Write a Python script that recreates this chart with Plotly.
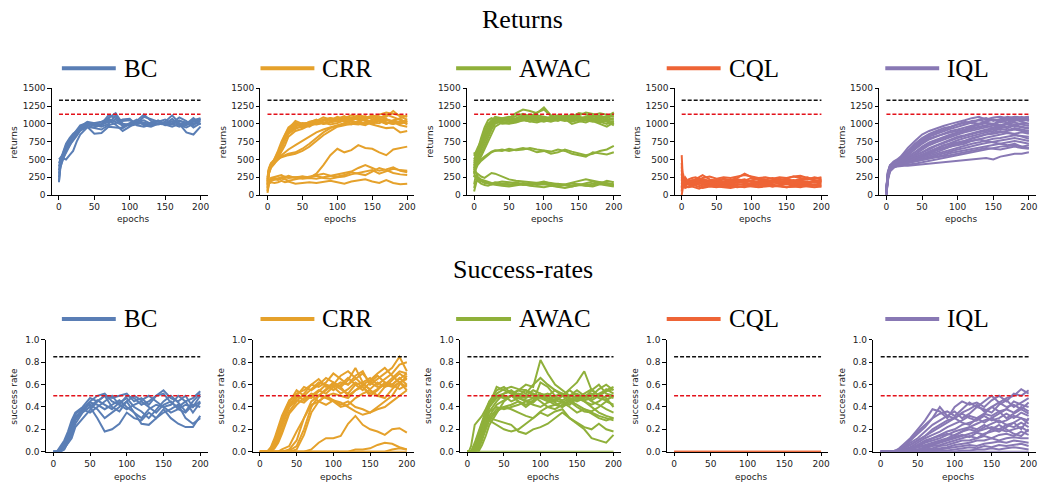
import plotly.graph_objects as go

# ---------------- data ----------------
EPOCHS = [0, 2, 5, 10, 15, 20, 25, 30, 40, 50, 60, 70, 80, 90, 100,
          110, 120, 130, 140, 150, 160, 170, 180, 190, 200]

METHODS = ["BC", "CRR", "AWAC", "CQL", "IQL"]
COLORS = {"BC": "#5A7EB5", "CRR": "#E5A12B", "AWAC": "#8FB03A",
          "CQL": "#EE6436", "IQL": "#8878B4"}

RETURN_EXPERT = 1330
RETURN_REFERENCE = 1135
SUCCESS_EXPERT = 0.85
SUCCESS_REFERENCE = 0.5

RETURN_TICKS = [0, 250, 500, 750, 1000, 1250, 1500]
SUCCESS_TICKS = [0.0, 0.2, 0.4, 0.6, 0.8, 1.0]
EPOCH_TICKS = [0, 50, 100, 150, 200]

BC_RETURNS = [
    [180, 420, 520, 650, 740, 800, 860, 920, 980, 1000, 990, 1030, 1060, 1000, 980, 1020, 1050, 1000, 990, 1010, 1040, 1000, 980, 1030, 1060],
    [300, 480, 560, 700, 780, 850, 920, 980, 1010, 980, 960, 1000, 1120, 960, 1010, 1060, 990, 1020, 1040, 980, 990, 1050, 1000, 1010, 1000],
    [450, 500, 520, 500, 560, 620, 750, 850, 950, 950, 990, 1080, 1150, 1000, 970, 1000, 1020, 990, 1010, 1000, 1070, 980, 950, 1000, 1040],
    [250, 400, 480, 620, 700, 760, 830, 900, 960, 860, 870, 960, 950, 940, 1000, 1030, 1010, 980, 1000, 990, 960, 1000, 880, 850, 960],
    [500, 520, 560, 680, 760, 820, 880, 930, 1000, 970, 1000, 1120, 1080, 1040, 1050, 1000, 1100, 1060, 1030, 1060, 1000, 1040, 1020, 980, 1070],
    [200, 380, 500, 600, 700, 790, 880, 960, 1030, 1010, 980, 1050, 990, 900, 960, 1040, 1130, 1040, 1000, 1020, 1000, 960, 1000, 1080, 990],
    [350, 460, 540, 660, 740, 800, 860, 940, 980, 940, 920, 980, 1010, 1060, 1070, 980, 960, 990, 1050, 1000, 1010, 1090, 1040, 950, 1010],
    [400, 500, 580, 720, 800, 860, 900, 950, 990, 1010, 1030, 1070, 1020, 980, 1000, 1050, 980, 960, 1000, 1030, 1120, 1010, 990, 1050, 1080],
]

CRR_RETURNS = [
    [100, 300, 400, 500, 620, 750, 850, 950, 1020, 950, 1000, 1030, 1050, 1080, 1060, 1100, 1080, 1120, 1100, 1090, 1130, 1160, 1140, 1120, 1100],
    [200, 350, 430, 480, 580, 700, 820, 920, 1000, 980, 960, 1020, 1060, 1050, 1100, 1070, 1060, 1100, 1080, 1120, 1090, 1100, 1180, 1100, 1060],
    [150, 320, 420, 460, 540, 640, 760, 880, 960, 1000, 1010, 1000, 1040, 1080, 1050, 1040, 1090, 1060, 1110, 1060, 1070, 1050, 1040, 1080, 1120],
    [250, 380, 450, 500, 600, 720, 840, 930, 1040, 1000, 1020, 1060, 1000, 1030, 1070, 1110, 1050, 1080, 1040, 1000, 1050, 1020, 1000, 1030, 1000],
    [120, 300, 380, 440, 520, 600, 700, 820, 900, 930, 980, 1000, 1020, 990, 1010, 1050, 1000, 1040, 1060, 1020, 1010, 1060, 1030, 1000, 1040],
    [180, 340, 440, 470, 560, 680, 790, 900, 980, 1010, 990, 1040, 1090, 1060, 1030, 1080, 1120, 1090, 1060, 1110, 1080, 1130, 1090, 1060, 1020],
    [220, 360, 410, 490, 590, 710, 800, 870, 940, 960, 1000, 990, 1010, 1060, 1080, 1030, 1040, 1020, 1070, 1090, 1040, 1000, 1050, 1070, 990],
    [160, 330, 420, 470, 550, 660, 780, 860, 930, 980, 1030, 1050, 1000, 1020, 1040, 1060, 1030, 1000, 1020, 1050, 1100, 1070, 1020, 980, 960],
    [140, 310, 400, 450, 500, 540, 560, 580, 600, 650, 720, 800, 880, 940, 970, 1000, 990, 1030, 1000, 1020, 1050, 1000, 1040, 1020, 1060],
    [200, 340, 420, 470, 510, 530, 550, 560, 580, 620, 680, 760, 840, 900, 960, 980, 1000, 990, 1020, 990, 960, 940, 950, 880, 900],
    [230, 360, 430, 480, 520, 560, 600, 640, 700, 760, 830, 880, 920, 950, 980, 1010, 1040, 1000, 980, 1030, 1060, 1020, 1000, 1040, 1020],
    [100, 180, 200, 220, 240, 250, 240, 250, 250, 260, 240, 300, 420, 560, 650, 600, 630, 700, 660, 650, 600, 560, 640, 660, 680],
    [50, 180, 220, 240, 230, 250, 260, 240, 250, 230, 240, 230, 250, 260, 280, 300, 330, 380, 420, 380, 340, 360, 390, 340, 320],
    [80, 200, 240, 250, 260, 280, 250, 270, 240, 260, 250, 270, 240, 230, 250, 260, 290, 310, 330, 350, 300, 330, 370, 350, 340],
    [30, 150, 200, 220, 210, 230, 220, 200, 220, 240, 260, 280, 300, 270, 260, 280, 320, 300, 280, 330, 380, 350, 310, 290, 280],
    [60, 160, 180, 170, 180, 200, 180, 190, 160, 170, 180, 170, 180, 200, 180, 160, 190, 200, 220, 190, 170, 210, 170, 150, 160],
]

AWAC_RETURNS = [
    [400, 500, 600, 750, 900, 1000, 1050, 1070, 1050, 1060, 1080, 1120, 1090, 1060, 1100, 1080, 1060, 1100, 1120, 1080, 1060, 1100, 1120, 1080, 1150],
    [450, 520, 640, 800, 950, 1050, 1080, 1060, 1040, 1080, 1150, 1200, 1180, 1150, 1230, 1120, 1090, 1070, 1100, 1150, 1130, 1100, 1080, 1110, 1140],
    [600, 550, 600, 700, 820, 920, 1000, 1080, 1070, 1040, 1060, 1100, 1080, 1120, 1100, 1060, 1040, 1080, 1050, 1070, 1100, 1060, 1040, 1060, 1080],
    [300, 420, 520, 640, 760, 880, 980, 1040, 1020, 1000, 1020, 1050, 1080, 1050, 1030, 1060, 1100, 1070, 1000, 1030, 1050, 1040, 1000, 960, 1020],
    [500, 560, 620, 720, 840, 960, 1040, 1100, 1080, 1060, 1040, 1080, 1100, 1160, 1200, 1110, 1060, 1090, 1130, 1100, 1080, 1120, 1150, 1130, 1100],
    [350, 450, 540, 660, 780, 900, 1000, 1060, 1080, 1100, 1070, 1090, 1060, 1040, 1070, 1100, 1080, 1050, 1060, 1040, 1020, 1060, 1090, 1050, 1000],
    [420, 480, 560, 680, 800, 920, 1020, 1050, 1000, 1010, 1040, 1060, 1030, 1080, 1060, 1040, 1070, 1120, 1080, 1050, 1070, 1040, 1020, 1050, 1060],
    [550, 600, 660, 760, 880, 980, 1030, 1060, 1050, 1080, 1100, 1140, 1100, 1080, 1060, 1090, 1120, 1100, 1080, 1120, 1160, 1140, 1100, 1080, 1120],
    [380, 430, 480, 580, 700, 820, 920, 1000, 1040, 1050, 1030, 1050, 1040, 1020, 1050, 1030, 1060, 1040, 1060, 1080, 1050, 1030, 1060, 1030, 980],
    [480, 520, 580, 660, 760, 860, 960, 1020, 1060, 1040, 1060, 1100, 1130, 1100, 1080, 1060, 1090, 1060, 1030, 1060, 1100, 1080, 1060, 1100, 1160],
    [320, 380, 450, 540, 640, 750, 860, 960, 1020, 1030, 1060, 1080, 1070, 1050, 1040, 1080, 1100, 1070, 1040, 1060, 1080, 1060, 1030, 1000, 1040],
    [250, 350, 420, 480, 520, 560, 600, 620, 640, 620, 640, 660, 640, 600, 620, 580, 600, 640, 610, 580, 560, 580, 620, 640, 690],
    [300, 380, 440, 500, 540, 580, 610, 630, 620, 650, 630, 640, 660, 640, 630, 610, 640, 620, 580, 560, 540, 600, 580, 570, 600],
    [150, 250, 300, 260, 240, 280, 310, 300, 260, 220, 200, 190, 180, 170, 160, 150, 160, 140, 130, 150, 140, 160, 180, 170, 150],
    [50, 150, 250, 220, 200, 180, 170, 160, 150, 140, 150, 170, 160, 140, 150, 130, 120, 140, 160, 150, 130, 140, 160, 200, 180],
    [400, 330, 260, 200, 180, 170, 160, 180, 160, 170, 180, 150, 140, 160, 180, 170, 150, 130, 120, 140, 170, 190, 160, 140, 130],
    [100, 180, 200, 160, 140, 130, 150, 140, 130, 120, 140, 150, 130, 120, 110, 130, 120, 100, 120, 140, 130, 120, 150, 130, 120],
    [250, 280, 220, 190, 170, 160, 150, 170, 190, 180, 160, 140, 150, 170, 190, 160, 140, 150, 170, 200, 220, 200, 180, 160, 140],
]

CQL_RETURNS = [
    [560, 150, 180, 160, 170, 150, 200, 180, 160, 190, 170, 200, 180, 210, 190, 170, 180, 200, 190, 170, 180, 200, 190, 180, 200],
    [350, 200, 140, 180, 200, 220, 250, 280, 220, 200, 230, 210, 240, 300, 250, 230, 220, 240, 210, 230, 260, 240, 220, 250, 230],
    [100, 250, 160, 140, 130, 150, 170, 140, 150, 130, 140, 160, 150, 140, 130, 150, 140, 120, 140, 150, 130, 140, 150, 130, 140],
    [200, 300, 120, 200, 210, 190, 180, 220, 200, 210, 190, 200, 220, 200, 240, 210, 190, 210, 230, 200, 190, 210, 230, 200, 210],
    [0, 120, 200, 170, 150, 160, 140, 120, 140, 160, 150, 130, 140, 160, 150, 140, 160, 150, 130, 160, 150, 140, 130, 150, 160],
    [400, 180, 100, 120, 140, 130, 110, 100, 120, 110, 130, 120, 110, 130, 120, 110, 120, 130, 120, 110, 120, 130, 120, 110, 120],
    [150, 220, 180, 200, 180, 200, 230, 210, 180, 200, 220, 190, 200, 180, 210, 230, 200, 190, 210, 220, 200, 230, 250, 210, 180],
    [250, 170, 230, 150, 170, 180, 160, 190, 170, 180, 160, 180, 170, 190, 200, 180, 170, 180, 160, 180, 170, 160, 180, 190, 170],
    [50, 280, 150, 220, 240, 250, 220, 240, 260, 230, 250, 240, 260, 280, 260, 240, 250, 230, 250, 240, 260, 270, 240, 230, 250],
    [300, 100, 130, 110, 120, 100, 90, 110, 130, 120, 110, 100, 120, 110, 130, 120, 140, 120, 130, 110, 120, 110, 130, 140, 120],
    [450, 140, 170, 190, 160, 170, 190, 170, 190, 170, 190, 210, 190, 170, 160, 190, 210, 190, 170, 190, 210, 180, 170, 190, 220],
    [120, 200, 250, 180, 190, 210, 190, 160, 180, 150, 170, 180, 200, 220, 180, 160, 150, 170, 190, 200, 180, 170, 160, 180, 200],
]

IQL_RETURNS = [
    [0, 250, 420, 470, 500, 540, 600, 660, 760, 850, 900, 940, 970, 1000, 1020, 1050, 1080, 1100, 1060, 1090, 1100, 1080, 1100, 1090, 1100],
    [50, 300, 400, 460, 480, 520, 570, 620, 720, 800, 860, 900, 940, 960, 1000, 1030, 1010, 1060, 1080, 1040, 1070, 1100, 1080, 1060, 1080],
    [100, 280, 380, 440, 470, 500, 540, 590, 680, 760, 820, 860, 900, 930, 960, 990, 1020, 1000, 1040, 1060, 1020, 1050, 1080, 1040, 1060],
    [20, 260, 360, 430, 460, 490, 520, 560, 640, 720, 780, 820, 860, 900, 920, 950, 980, 1000, 1020, 990, 1030, 1060, 1040, 1070, 1040],
    [80, 320, 420, 450, 470, 480, 500, 530, 600, 680, 740, 780, 820, 850, 880, 900, 940, 960, 980, 1000, 1040, 1020, 1060, 1030, 1000],
    [30, 240, 380, 420, 440, 460, 480, 510, 570, 640, 700, 740, 780, 810, 850, 880, 900, 920, 950, 980, 960, 1000, 1020, 990, 970],
    [60, 290, 400, 440, 460, 470, 490, 510, 550, 600, 660, 700, 740, 780, 820, 840, 870, 900, 920, 940, 960, 940, 980, 960, 940],
    [10, 220, 340, 400, 430, 450, 470, 490, 530, 580, 620, 660, 700, 740, 770, 800, 830, 860, 880, 900, 930, 910, 940, 920, 900],
    [120, 300, 390, 430, 450, 460, 470, 480, 510, 550, 590, 630, 670, 700, 730, 760, 790, 820, 850, 860, 880, 900, 920, 900, 880],
    [40, 260, 370, 410, 430, 440, 450, 460, 500, 540, 570, 600, 640, 680, 720, 740, 760, 780, 800, 830, 850, 870, 860, 880, 860],
    [70, 280, 380, 420, 440, 450, 460, 470, 490, 520, 550, 580, 610, 640, 670, 700, 720, 740, 770, 790, 800, 820, 840, 830, 820],
    [0, 230, 350, 400, 420, 430, 440, 450, 470, 500, 530, 560, 590, 610, 640, 660, 690, 710, 730, 750, 760, 780, 800, 780, 760],
    [90, 310, 400, 430, 440, 440, 450, 450, 470, 490, 510, 540, 560, 590, 610, 630, 650, 670, 690, 700, 720, 740, 760, 740, 720],
    [20, 240, 360, 400, 410, 420, 420, 430, 440, 460, 480, 500, 520, 540, 560, 590, 610, 630, 650, 660, 680, 690, 700, 680, 660],
    [50, 250, 350, 390, 400, 410, 410, 410, 420, 430, 440, 450, 460, 460, 470, 480, 500, 510, 520, 500, 540, 560, 580, 580, 600],
    [110, 330, 410, 440, 460, 480, 520, 570, 660, 740, 800, 830, 860, 880, 900, 920, 960, 990, 1010, 1000, 980, 1010, 1050, 1080, 1090],
    [30, 270, 390, 440, 470, 500, 560, 620, 700, 780, 840, 880, 920, 960, 990, 1010, 1040, 1050, 1030, 1060, 1050, 1080, 1060, 1100, 1050],
    [60, 260, 380, 420, 440, 450, 470, 490, 520, 560, 600, 640, 660, 680, 700, 720, 760, 780, 760, 740, 720, 700, 720, 680, 700],
    [0, 200, 330, 380, 410, 430, 450, 470, 510, 560, 610, 650, 700, 720, 740, 760, 800, 830, 860, 880, 900, 880, 850, 820, 790],
    [80, 290, 390, 430, 450, 470, 490, 510, 550, 590, 640, 690, 730, 770, 800, 830, 860, 880, 900, 920, 940, 960, 990, 1010, 1000],
    [40, 250, 370, 410, 430, 440, 450, 460, 480, 500, 520, 530, 540, 560, 580, 600, 620, 640, 660, 650, 640, 660, 680, 660, 650],
    [100, 300, 400, 440, 460, 480, 510, 540, 600, 660, 720, 760, 800, 840, 870, 900, 930, 950, 970, 950, 980, 1000, 970, 950, 930],
]

BC_SUCCESS = [
    [0, 0, 0, 0.02, 0.08, 0.15, 0.22, 0.3, 0.38, 0.45, 0.5, 0.52, 0.45, 0.42, 0.5, 0.48, 0.42, 0.45, 0.5, 0.52, 0.44, 0.4, 0.45, 0.48, 0.54],
    [0, 0, 0, 0, 0.05, 0.12, 0.2, 0.3, 0.38, 0.42, 0.38, 0.3, 0.35, 0.4, 0.45, 0.35, 0.3, 0.38, 0.42, 0.4, 0.35, 0.38, 0.42, 0.4, 0.45],
    [0, 0, 0, 0, 0.02, 0.08, 0.15, 0.25, 0.35, 0.4, 0.3, 0.18, 0.2, 0.25, 0.35, 0.3, 0.28, 0.35, 0.3, 0.38, 0.3, 0.25, 0.22, 0.22, 0.32],
    [0, 0, 0, 0.05, 0.1, 0.18, 0.28, 0.35, 0.4, 0.48, 0.45, 0.5, 0.48, 0.5, 0.52, 0.45, 0.48, 0.42, 0.5, 0.55, 0.48, 0.45, 0.5, 0.4, 0.5],
    [0, 0, 0, 0, 0.04, 0.1, 0.18, 0.28, 0.36, 0.44, 0.42, 0.38, 0.42, 0.46, 0.4, 0.35, 0.25, 0.24, 0.3, 0.35, 0.38, 0.42, 0.3, 0.25, 0.3],
    [0, 0, 0, 0.02, 0.06, 0.14, 0.24, 0.34, 0.38, 0.35, 0.4, 0.45, 0.5, 0.42, 0.38, 0.42, 0.45, 0.4, 0.35, 0.42, 0.45, 0.38, 0.35, 0.42, 0.4],
    [0, 0, 0, 0, 0.03, 0.08, 0.12, 0.22, 0.3, 0.38, 0.45, 0.5, 0.4, 0.36, 0.45, 0.5, 0.46, 0.5, 0.45, 0.4, 0.42, 0.5, 0.45, 0.35, 0.44],
    [0, 0, 0, 0.03, 0.08, 0.16, 0.25, 0.32, 0.36, 0.4, 0.46, 0.42, 0.38, 0.44, 0.48, 0.4, 0.36, 0.3, 0.38, 0.45, 0.5, 0.44, 0.36, 0.45, 0.52],
]

CRR_SUCCESS = [
    [0, 0, 0, 0, 0.03, 0.1, 0.2, 0.3, 0.45, 0.52, 0.55, 0.6, 0.58, 0.62, 0.7, 0.65, 0.6, 0.68, 0.72, 0.6, 0.65, 0.7, 0.75, 0.85, 0.72],
    [0, 0, 0, 0, 0.02, 0.08, 0.16, 0.26, 0.42, 0.5, 0.58, 0.55, 0.6, 0.66, 0.62, 0.58, 0.64, 0.75, 0.62, 0.66, 0.6, 0.65, 0.7, 0.78, 0.8],
    [0, 0, 0, 0, 0, 0.05, 0.12, 0.22, 0.4, 0.48, 0.5, 0.56, 0.62, 0.6, 0.55, 0.6, 0.66, 0.6, 0.55, 0.62, 0.68, 0.62, 0.6, 0.66, 0.6],
    [0, 0, 0, 0, 0.04, 0.12, 0.22, 0.32, 0.46, 0.5, 0.46, 0.52, 0.5, 0.56, 0.62, 0.58, 0.5, 0.55, 0.6, 0.56, 0.62, 0.58, 0.64, 0.7, 0.65],
    [0, 0, 0, 0, 0, 0.04, 0.1, 0.18, 0.36, 0.45, 0.52, 0.6, 0.65, 0.58, 0.6, 0.68, 0.72, 0.66, 0.6, 0.64, 0.7, 0.75, 0.68, 0.62, 0.55],
    [0, 0, 0, 0, 0.02, 0.06, 0.14, 0.24, 0.44, 0.55, 0.5, 0.48, 0.54, 0.6, 0.58, 0.52, 0.56, 0.62, 0.58, 0.5, 0.55, 0.62, 0.6, 0.56, 0.6],
    [0, 0, 0, 0, 0, 0.03, 0.08, 0.16, 0.34, 0.42, 0.48, 0.5, 0.45, 0.5, 0.46, 0.42, 0.45, 0.4, 0.38, 0.35, 0.4, 0.45, 0.5, 0.6, 0.68],
    [0, 0, 0, 0, 0.03, 0.1, 0.18, 0.28, 0.4, 0.46, 0.44, 0.5, 0.55, 0.52, 0.58, 0.62, 0.6, 0.65, 0.7, 0.62, 0.58, 0.6, 0.66, 0.72, 0.7],
    [0, 0, 0, 0, 0, 0, 0, 0, 0.02, 0.1, 0.3, 0.42, 0.45, 0.5, 0.52, 0.5, 0.48, 0.55, 0.58, 0.52, 0.56, 0.6, 0.58, 0.62, 0.58],
    [0, 0, 0, 0, 0, 0, 0, 0, 0, 0.02, 0.15, 0.35, 0.45, 0.42, 0.46, 0.44, 0.4, 0.36, 0.33, 0.35, 0.38, 0.4, 0.45, 0.5, 0.55],
    [0, 0, 0, 0, 0, 0, 0, 0.02, 0.05, 0.18, 0.3, 0.45, 0.5, 0.48, 0.45, 0.4, 0.42, 0.48, 0.52, 0.55, 0.5, 0.48, 0.56, 0.62, 0.65],
    [0, 0, 0, 0, 0, 0, 0, 0, 0, 0, 0, 0.02, 0.08, 0.12, 0.12, 0.14, 0.25, 0.32, 0.24, 0.2, 0.18, 0.15, 0.2, 0.21, 0.17],
    [0, 0, 0, 0, 0, 0, 0, 0, 0, 0, 0, 0, 0, 0, 0, 0, 0, 0.02, 0.02, 0.03, 0.06, 0.08, 0.07, 0.04, 0.02],
    [0, 0, 0, 0, 0, 0, 0, 0, 0, 0, 0, 0, 0, 0, 0, 0, 0, 0, 0, 0, 0, 0, 0.02, 0.03, 0.02],
    [0, 0, 0, 0, 0, 0, 0, 0, 0, 0, 0, 0, 0, 0, 0, 0, 0, 0, 0, 0, 0, 0, 0, 0, 0],
    [0, 0, 0, 0, 0, 0, 0, 0, 0.01, 0.05, 0.2, 0.4, 0.5, 0.55, 0.6, 0.56, 0.52, 0.6, 0.62, 0.55, 0.5, 0.58, 0.6, 0.65, 0.7],
]

AWAC_SUCCESS = [
    [0, 0, 0.05, 0.24, 0.28, 0.32, 0.38, 0.45, 0.55, 0.58, 0.52, 0.55, 0.6, 0.58, 0.82, 0.7, 0.6, 0.55, 0.5, 0.52, 0.48, 0.5, 0.56, 0.6, 0.55],
    [0, 0, 0, 0.08, 0.18, 0.28, 0.36, 0.44, 0.5, 0.48, 0.5, 0.55, 0.52, 0.6, 0.66, 0.6, 0.55, 0.5, 0.56, 0.62, 0.72, 0.55, 0.5, 0.56, 0.52],
    [0, 0, 0, 0.04, 0.12, 0.22, 0.32, 0.42, 0.58, 0.55, 0.52, 0.48, 0.5, 0.55, 0.52, 0.48, 0.45, 0.5, 0.55, 0.5, 0.46, 0.48, 0.52, 0.55, 0.58],
    [0, 0, 0, 0.02, 0.1, 0.2, 0.3, 0.4, 0.48, 0.5, 0.45, 0.48, 0.46, 0.44, 0.5, 0.46, 0.42, 0.4, 0.46, 0.5, 0.45, 0.4, 0.35, 0.32, 0.3],
    [0, 0, 0, 0, 0.06, 0.16, 0.26, 0.36, 0.45, 0.52, 0.55, 0.5, 0.48, 0.52, 0.48, 0.45, 0.5, 0.52, 0.48, 0.45, 0.48, 0.55, 0.6, 0.52, 0.5],
    [0, 0, 0, 0.05, 0.14, 0.24, 0.34, 0.44, 0.52, 0.56, 0.58, 0.56, 0.55, 0.5, 0.45, 0.4, 0.38, 0.42, 0.46, 0.42, 0.38, 0.36, 0.4, 0.45, 0.42],
    [0, 0, 0, 0, 0.04, 0.12, 0.22, 0.32, 0.42, 0.46, 0.5, 0.52, 0.5, 0.48, 0.5, 0.52, 0.48, 0.46, 0.5, 0.55, 0.5, 0.46, 0.5, 0.48, 0.4],
    [0, 0, 0, 0.03, 0.1, 0.18, 0.28, 0.36, 0.4, 0.38, 0.4, 0.42, 0.45, 0.48, 0.52, 0.5, 0.46, 0.44, 0.48, 0.46, 0.5, 0.52, 0.48, 0.46, 0.5],
    [0, 0, 0, 0, 0.02, 0.1, 0.2, 0.3, 0.38, 0.4, 0.42, 0.45, 0.4, 0.45, 0.62, 0.58, 0.5, 0.45, 0.42, 0.48, 0.5, 0.45, 0.42, 0.38, 0.35],
    [0, 0, 0, 0.02, 0.08, 0.15, 0.24, 0.3, 0.28, 0.26, 0.24, 0.18, 0.16, 0.2, 0.22, 0.25, 0.3, 0.35, 0.3, 0.26, 0.22, 0.2, 0.25, 0.2, 0.18],
    [0, 0, 0, 0.04, 0.1, 0.18, 0.25, 0.28, 0.24, 0.2, 0.18, 0.2, 0.25, 0.3, 0.35, 0.32, 0.36, 0.38, 0.3, 0.25, 0.2, 0.12, 0.1, 0.08, 0.15],
    [0, 0, 0, 0, 0.05, 0.12, 0.2, 0.28, 0.36, 0.4, 0.38, 0.35, 0.32, 0.3, 0.36, 0.4, 0.42, 0.44, 0.4, 0.35, 0.38, 0.34, 0.3, 0.28, 0.3],
    [0, 0, 0, 0, 0, 0.06, 0.14, 0.24, 0.35, 0.45, 0.5, 0.48, 0.45, 0.42, 0.4, 0.44, 0.46, 0.5, 0.45, 0.4, 0.36, 0.35, 0.32, 0.3, 0.28],
    [0, 0, 0, 0, 0, 0, 0, 0, 0, 0, 0, 0, 0, 0, 0, 0, 0, 0, 0, 0, 0, 0, 0, 0, 0],
    [0, 0, 0, 0.06, 0.16, 0.26, 0.35, 0.45, 0.5, 0.52, 0.54, 0.5, 0.55, 0.52, 0.48, 0.5, 0.55, 0.52, 0.5, 0.48, 0.52, 0.56, 0.5, 0.54, 0.56],
    [0, 0, 0, 0.02, 0.08, 0.18, 0.3, 0.4, 0.5, 0.48, 0.5, 0.45, 0.42, 0.46, 0.5, 0.48, 0.44, 0.4, 0.44, 0.48, 0.45, 0.42, 0.45, 0.5, 0.48],
]

CQL_SUCCESS = [
    [0, 0, 0, 0, 0, 0, 0, 0, 0, 0, 0, 0, 0, 0, 0, 0, 0, 0, 0, 0, 0, 0, 0, 0, 0],
    [0, 0, 0, 0, 0, 0, 0, 0, 0, 0, 0, 0, 0, 0, 0, 0, 0, 0, 0, 0, 0, 0, 0, 0, 0],
]

IQL_SUCCESS = [
    [0, 0, 0, 0, 0, 0.01, 0.03, 0.06, 0.12, 0.2, 0.28, 0.38, 0.36, 0.3, 0.4, 0.45, 0.42, 0.44, 0.4, 0.46, 0.5, 0.45, 0.52, 0.5, 0.55],
    [0, 0, 0, 0, 0, 0, 0.02, 0.04, 0.1, 0.16, 0.22, 0.3, 0.34, 0.36, 0.32, 0.38, 0.44, 0.4, 0.45, 0.5, 0.44, 0.48, 0.5, 0.56, 0.52],
    [0, 0, 0, 0, 0, 0, 0.01, 0.03, 0.08, 0.12, 0.18, 0.24, 0.28, 0.32, 0.36, 0.3, 0.34, 0.4, 0.38, 0.35, 0.42, 0.46, 0.4, 0.44, 0.48],
    [0, 0, 0, 0, 0, 0, 0, 0.02, 0.06, 0.1, 0.14, 0.18, 0.22, 0.26, 0.3, 0.34, 0.3, 0.28, 0.34, 0.4, 0.36, 0.38, 0.45, 0.42, 0.4],
    [0, 0, 0, 0, 0, 0, 0, 0.01, 0.04, 0.08, 0.12, 0.15, 0.18, 0.22, 0.25, 0.28, 0.32, 0.3, 0.26, 0.3, 0.34, 0.38, 0.35, 0.4, 0.36],
    [0, 0, 0, 0, 0, 0, 0, 0, 0.03, 0.06, 0.1, 0.12, 0.15, 0.18, 0.2, 0.24, 0.26, 0.28, 0.32, 0.28, 0.3, 0.34, 0.3, 0.35, 0.32],
    [0, 0, 0, 0, 0, 0, 0, 0, 0.02, 0.05, 0.08, 0.1, 0.12, 0.15, 0.18, 0.2, 0.22, 0.25, 0.28, 0.3, 0.26, 0.28, 0.32, 0.3, 0.28],
    [0, 0, 0, 0, 0, 0, 0, 0, 0.01, 0.04, 0.06, 0.08, 0.1, 0.12, 0.15, 0.18, 0.2, 0.18, 0.22, 0.25, 0.28, 0.24, 0.26, 0.3, 0.25],
    [0, 0, 0, 0, 0, 0, 0, 0, 0.01, 0.02, 0.04, 0.06, 0.08, 0.1, 0.12, 0.14, 0.16, 0.18, 0.2, 0.22, 0.2, 0.24, 0.22, 0.26, 0.22],
    [0, 0, 0, 0, 0, 0, 0, 0, 0, 0.02, 0.03, 0.05, 0.06, 0.08, 0.1, 0.12, 0.14, 0.12, 0.16, 0.18, 0.2, 0.18, 0.2, 0.22, 0.18],
    [0, 0, 0, 0, 0, 0, 0, 0, 0, 0.01, 0.02, 0.03, 0.05, 0.06, 0.08, 0.1, 0.1, 0.12, 0.14, 0.12, 0.15, 0.16, 0.14, 0.18, 0.15],
    [0, 0, 0, 0, 0, 0, 0, 0, 0, 0, 0.01, 0.02, 0.03, 0.04, 0.06, 0.07, 0.08, 0.1, 0.1, 0.12, 0.1, 0.12, 0.13, 0.12, 0.12],
    [0, 0, 0, 0, 0, 0, 0, 0, 0, 0, 0, 0.01, 0.02, 0.03, 0.04, 0.05, 0.06, 0.05, 0.07, 0.08, 0.09, 0.08, 0.1, 0.09, 0.08],
    [0, 0, 0, 0, 0, 0, 0, 0, 0, 0, 0, 0, 0.01, 0.01, 0.02, 0.03, 0.04, 0.03, 0.05, 0.04, 0.06, 0.05, 0.06, 0.07, 0.05],
    [0, 0, 0, 0, 0, 0, 0, 0, 0, 0, 0, 0, 0, 0, 0, 0.01, 0.01, 0.02, 0.02, 0.03, 0.02, 0.03, 0.04, 0.03, 0.02],
    [0, 0, 0, 0, 0, 0, 0, 0, 0, 0, 0, 0, 0, 0, 0, 0, 0, 0, 0, 0, 0, 0, 0, 0, 0],
    [0, 0, 0, 0, 0, 0.01, 0.02, 0.04, 0.1, 0.18, 0.24, 0.3, 0.4, 0.32, 0.3, 0.35, 0.38, 0.42, 0.36, 0.4, 0.44, 0.4, 0.42, 0.38, 0.44],
    [0, 0, 0, 0, 0, 0, 0.01, 0.02, 0.06, 0.1, 0.14, 0.2, 0.24, 0.28, 0.3, 0.26, 0.24, 0.3, 0.34, 0.32, 0.36, 0.3, 0.34, 0.38, 0.34],
    [0, 0, 0, 0, 0, 0, 0, 0.01, 0.03, 0.06, 0.09, 0.12, 0.14, 0.16, 0.14, 0.18, 0.22, 0.2, 0.24, 0.2, 0.18, 0.22, 0.26, 0.2, 0.3],
    [0, 0, 0, 0, 0, 0, 0, 0, 0.02, 0.04, 0.05, 0.07, 0.09, 0.11, 0.13, 0.15, 0.13, 0.17, 0.15, 0.2, 0.24, 0.2, 0.16, 0.14, 0.2],
]

RETURNS = {"BC": BC_RETURNS, "CRR": CRR_RETURNS, "AWAC": AWAC_RETURNS,
           "CQL": CQL_RETURNS, "IQL": IQL_RETURNS}
SUCCESS = {"BC": BC_SUCCESS, "CRR": CRR_SUCCESS, "AWAC": AWAC_SUCCESS,
           "CQL": CQL_SUCCESS, "IQL": IQL_SUCCESS}

# ---------------- layout geometry (pixels) ----------------
W, H = 1041, 488
ROW_X = [
    [(52, 208), (261, 415), (468, 622), (676, 830), (881, 1038)],
    [(46, 208), (253, 415), (461, 622), (668, 830), (875, 1038)],
]
ROW_Y = [(85, 194), (342, 456)]
LEGEND_LINE_X = [(62, 116), (261, 315), (457, 512), (668, 722), (887, 941)]
LEGEND_Y = [64.5, 320.5]
TITLE_Y = [15, 270]
SECTION_TITLES = ["Returns", "Success-rates"]
Y_LABELS = ["returns", "success rate"]
YLABEL_OFFSET = [38, 32]
XLABEL_Y = [218, 482]


def px(x):
    return x / W


def py(y):
    return 1 - y / H


fig = go.Figure()
layout = {}
annotations = []
shapes = []

TICK_FONT = dict(family="DejaVu Sans", size=9, color="#222222")
LABEL_FONT = dict(family="DejaVu Sans", size=9, color="#222222")
SERIF = "Liberation Serif, Times New Roman, serif"

for row in range(2):
    data = RETURNS if row == 0 else SUCCESS
    expert = RETURN_EXPERT if row == 0 else SUCCESS_EXPERT
    ref = RETURN_REFERENCE if row == 0 else SUCCESS_REFERENCE
    for col, m in enumerate(METHODS):
        idx = row * 5 + col + 1
        xa = "x" if idx == 1 else f"x{idx}"
        ya = "y" if idx == 1 else f"y{idx}"
        for series in data[m]:
            fig.add_trace(go.Scatter(
                x=EPOCHS, y=series, xaxis=xa, yaxis=ya, mode="lines",
                line=dict(color=COLORS[m], width=2), showlegend=False,
                hoverinfo="skip"))
        fig.add_trace(go.Scatter(
            x=[EPOCHS[0], EPOCHS[-1]], y=[expert, expert], xaxis=xa, yaxis=ya,
            mode="lines", line=dict(color="#111111", width=1.5, dash="4px,2px"),
            showlegend=False, hoverinfo="skip"))
        fig.add_trace(go.Scatter(
            x=[EPOCHS[0], EPOCHS[-1]], y=[ref, ref], xaxis=xa, yaxis=ya,
            mode="lines", line=dict(color="#e3121b", width=1.5, dash="4px,2px"),
            showlegend=False, hoverinfo="skip"))

        x0, x1 = ROW_X[row][col]
        y0, y1 = ROW_Y[row]
        xkey = "xaxis" if idx == 1 else f"xaxis{idx}"
        ykey = "yaxis" if idx == 1 else f"yaxis{idx}"
        layout[xkey] = dict(
            domain=[px(x0), px(x1)], anchor=ya, range=[-10, 210],
            tickvals=EPOCH_TICKS, showline=True, linecolor="black", linewidth=1,
            ticks="outside", ticklen=3.5, tickwidth=1, tickcolor="black",
            showgrid=False, zeroline=False, tickfont=TICK_FONT,
            layer="below traces", fixedrange=True)
        if row == 0:
            yt = dict(range=[0, 1500], tickvals=RETURN_TICKS)
        else:
            yt = dict(range=[0, 1.0], tickvals=SUCCESS_TICKS, tickformat=".1f")
        layout[ykey] = dict(
            domain=[py(y1), py(y0)], anchor=xa, showline=True,
            linecolor="black", linewidth=1, ticks="outside", ticklen=3.5,
            tickwidth=1, tickcolor="black", showgrid=False, zeroline=False,
            tickfont=TICK_FONT, layer="below traces", fixedrange=True, **yt)

        # axis labels
        annotations.append(dict(
            text="epochs", x=px((x0 + x1) / 2 + 3), y=py(XLABEL_Y[row]),
            xref="paper", yref="paper", showarrow=False, font=LABEL_FONT,
            xanchor="center", yanchor="middle"))
        annotations.append(dict(
            text=Y_LABELS[row], x=px(x0 - YLABEL_OFFSET[row]),
            y=py((y0 + y1) / 2), xref="paper", yref="paper", showarrow=False,
            font=LABEL_FONT, textangle=-90, xanchor="center",
            yanchor="middle"))

        # legend (line sample + name)
        lx0, lx1 = LEGEND_LINE_X[col]
        shapes.append(dict(
            type="line", xref="paper", yref="paper", x0=px(lx0), x1=px(lx1),
            y0=py(LEGEND_Y[row]), y1=py(LEGEND_Y[row]),
            line=dict(color=COLORS[m], width=4)))
        annotations.append(dict(
            text=m, x=px(lx1 + 6), y=py(LEGEND_Y[row]), xref="paper",
            yref="paper", showarrow=False, xanchor="left", yanchor="middle",
            font=dict(family=SERIF, size=25, color="black")))

    annotations.append(dict(
        text=SECTION_TITLES[row], x=px(524), y=py(TITLE_Y[row]),
        xref="paper", yref="paper", showarrow=False, xanchor="center",
        yanchor="middle", font=dict(family=SERIF, size=26, color="black")))

fig.update_layout(
    width=W, height=H, margin=dict(l=0, r=0, t=0, b=0),
    paper_bgcolor="white", plot_bgcolor="white",
    annotations=annotations, shapes=shapes, showlegend=False, **layout)

fig.write_html(
    "out.html",
    config={"displayModeBar": False, "staticPlot": True},
    post_script=("document.documentElement.style.margin='0';"
                 "document.body.style.margin='0';"
                 "document.body.style.padding='0';"
                 "document.body.style.overflow='hidden';"))
